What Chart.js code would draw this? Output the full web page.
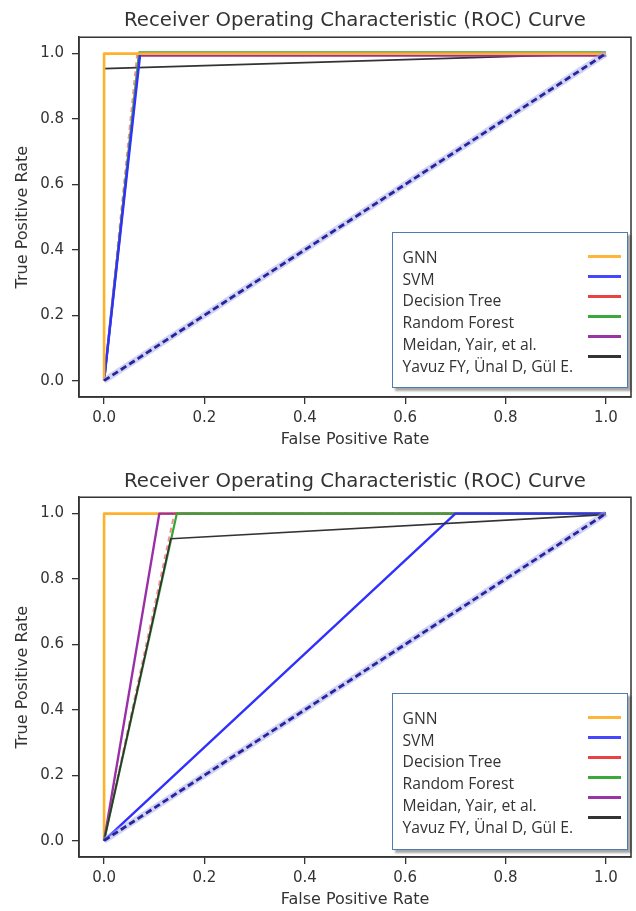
<!DOCTYPE html>
<html>
<head>
<meta charset="utf-8">
<script src="https://cdn.jsdelivr.net/npm/chart.js@4.4.0/dist/chart.umd.min.js"></script>
<style>
html,body{margin:0;padding:0;background:#fff;}
body{width:636px;height:911px;position:relative;overflow:hidden;}
.panel{position:absolute;left:0;width:636px;}
.panel canvas{position:absolute;left:0;top:0;}
.legend{position:absolute;left:392px;width:236px;background:#fff;border:1.5px solid #4d7cae;
  box-shadow:3px 3px 2px rgba(0,0,0,0.35);box-sizing:border-box;font-family:"Open Sans",sans-serif;
  font-size:15.7px;color:#333;}
.legend .txt{position:absolute;left:9.5px;height:20px;line-height:20px;white-space:nowrap;}
.legend .smp{position:absolute;left:194.5px;width:33px;height:3px;}
</style>
</head>
<body>
<div class="panel" id="p1" style="top:0;height:455px;"><canvas id="c1" width="636" height="455"></canvas></div>
<div class="panel" id="p2" style="top:455px;height:456px;"><canvas id="c2" width="636" height="456"></canvas></div>
<script>
// ---------- data ----------
const chartTitle = 'Receiver Operating Characteristic (ROC) Curve';
const xAxisTitle = 'False Positive Rate';
const yAxisTitle = 'True Positive Rate';
const tickValues = [0.0, 0.2, 0.4, 0.6, 0.8, 1.0];
const seriesLabels = ['GNN', 'SVM', 'Decision Tree', 'Random Forest', 'Meidan, Yair, et al.', 'Yavuz FY, Ünal D, Gül E.'];
const chanceFpr = [0, 1];
const chanceTpr = [0, 1];

// top panel
const topGnnFpr = [0, 0, 1];
const topGnnTpr = [0, 1.0, 1.0];
const topSvmFpr = [0, 0.072, 1];
const topSvmTpr = [0, 1.0, 1.0];
const topDtFpr = [0, 0.066, 1];
const topDtTpr = [0, 1.0, 1.0];
const topRfFpr = [0, 0.07, 1];
const topRfTpr = [0, 1.004, 1.004];
const topMeidanFpr = [0, 0.07, 1];
const topMeidanTpr = [0, 0.994, 0.994];
const topYavuzFpr = [0, 0, 1];
const topYavuzTpr = [0, 0.954, 1.0];

// bottom panel
const botGnnFpr = [0, 0, 1];
const botGnnTpr = [0, 1.0, 1.0];
const botSvmFpr = [0, 0.70, 1];
const botSvmTpr = [0, 1.0, 1.0];
const botDtFpr = [0, 0.14, 1];
const botDtTpr = [0, 1.0, 1.0];
const botRfFpr = [0, 0.145, 1];
const botRfTpr = [0, 1.0, 1.0];
const botMeidanFpr = [0, 0.11, 1];
const botMeidanTpr = [0, 1.0, 1.0];
const botYavuzFpr = [0, 0.133, 1];
const botYavuzTpr = [0, 0.923, 0.997];

// ---------- styles ----------
const lineColors = ['#ffb12a', '#3030ff', 'rgba(232,70,70,0.6)', '#35a535', '#9a2fa8', '#333333'];
const legendColors = ['#ffb43a', '#4646ff', '#e84242', '#3aa83a', '#9a35a5', '#333333'];
const lineWidths = [2.6, 2.4, 2.0, 2.2, 2.4, 1.7];
const lineDashes = [[], [], [5, 4], [], [], []];

function zip(xs, ys) { return xs.map((x, i) => ({x: x, y: ys[i]})); }

function makeDatasets(series, drawOrder) {
  const ds = series.map((s, i) => ({
    label: seriesLabels[i],
    data: zip(s[0], s[1]),
    showLine: true,
    borderColor: lineColors[i],
    backgroundColor: lineColors[i],
    borderWidth: lineWidths[i],
    borderDash: lineDashes[i],
    borderJoinStyle: 'round',
    pointRadius: 0,
    tension: 0,
    order: drawOrder[i]
  }));
  ds.push({label: 'chance-halo', data: zip(chanceFpr, chanceTpr), showLine: true, borderColor: 'rgba(165,165,235,0.5)',
    borderWidth: 6.5, pointRadius: 0, order: 1});
  ds.push({label: 'chance', data: zip(chanceFpr, chanceTpr), showLine: true, borderColor: '#25259e',
    borderWidth: 2.8, borderDash: [6.5, 3.5], pointRadius: 0, order: 0});
  return ds;
}

const framePlugin = {
  id: 'frame',
  afterDraw(chart) {
    const {ctx, chartArea: a} = chart;
    ctx.save();
    ctx.strokeStyle = '#333';
    ctx.lineWidth = 1.5;
    ctx.strokeRect(a.left, a.top, a.right - a.left, a.bottom - a.top);
    ctx.restore();
  }
};

function makeChart(canvasId, datasets, cfg) {
  const fam = 'DejaVu Sans';
  return new Chart(document.getElementById(canvasId), {
    type: 'scatter',
    data: {datasets: datasets},
    plugins: [framePlugin],
    options: {
      responsive: false,
      animation: false,
      events: [],
      layout: {padding: {left: 0, right: 5, top: 0, bottom: 0}},
      plugins: {
        legend: {display: false},
        tooltip: {enabled: false},
        title: {display: true, text: chartTitle, fullSize: false, color: '#333',
          font: {family: fam, size: 19.7, weight: 'normal', lineHeight: 1.2},
          padding: {top: cfg.titleTop, bottom: cfg.titleBottom}}
      },
      scales: {
        x: {
          type: 'linear', min: -0.05, max: 1.05,
          afterBuildTicks: s => { s.ticks = tickValues.map(v => ({value: v})); },
          afterFit: s => { s.height = cfg.xHeight; },
          ticks: {callback: v => Number(v).toFixed(1), color: '#333', font: {family: fam, size: 15}, padding: 5, maxRotation: 0, autoSkip: false},
          grid: {drawOnChartArea: false, drawTicks: true, tickLength: 7, color: '#333', lineWidth: 1.3},
          border: {display: true, color: '#333', width: 1.5},
          title: {display: true, text: xAxisTitle, color: '#333', font: {family: fam, size: 16, lineHeight: 1.2}, padding: {top: 0, bottom: cfg.xTitleBottom}}
        },
        y: {
          type: 'linear', min: -0.05, max: 1.05,
          afterBuildTicks: s => { s.ticks = tickValues.map(v => ({value: v})); },
          afterFit: s => { s.width = 79; },
          ticks: {callback: v => Number(v).toFixed(1), color: '#333', font: {family: fam, size: 15}, padding: 8, autoSkip: false},
          grid: {drawOnChartArea: false, drawTicks: true, tickLength: 7, color: '#333', lineWidth: 1.3},
          border: {display: true, color: '#333', width: 1.5},
          title: {display: true, text: yAxisTitle, color: '#333', font: {family: fam, size: 16, lineHeight: 1.2}, padding: {top: 13, bottom: 0}}
        }
      }
    }
  });
}

function buildLegend(panelId, boxTop, boxHeight) {
  const box = document.createElement('div');
  box.className = 'legend';
  box.style.top = boxTop + 'px';
  box.style.height = boxHeight + 'px';
  seriesLabels.forEach((lab, i) => {
    const t = document.createElement('div');
    t.className = 'txt';
    t.textContent = lab;
    t.style.top = (14 + i * 21.7) + 'px';
    box.appendChild(t);
    const s = document.createElement('div');
    s.className = 'smp';
    s.style.background = legendColors[i];
    s.style.top = (22 + i * 20) + 'px';
    box.appendChild(s);
  });
  document.getElementById(panelId).appendChild(box);
}

const topSeries = [[topGnnFpr, topGnnTpr], [topSvmFpr, topSvmTpr], [topDtFpr, topDtTpr], [topRfFpr, topRfTpr], [topMeidanFpr, topMeidanTpr], [topYavuzFpr, topYavuzTpr]];
const botSeries = [[botGnnFpr, botGnnTpr], [botSvmFpr, botSvmTpr], [botDtFpr, botDtTpr], [botRfFpr, botRfTpr], [botMeidanFpr, botMeidanTpr], [botYavuzFpr, botYavuzTpr]];

// draw order (higher = drawn first / underneath)
makeChart('c1', makeDatasets(topSeries, [4, 5, 8, 6, 7, 9]), {titleTop: 9, titleBottom: 4.6, xHeight: 58, xTitleBottom: 5.5});
makeChart('c2', makeDatasets(botSeries, [8, 4, 6, 5, 7, 3]), {titleTop: 15, titleBottom: 3.6, xHeight: 54, xTitleBottom: 1.5});

buildLegend('p1', 232, 156);
buildLegend('p2', 238, 157);
</script>
</body>
</html>
